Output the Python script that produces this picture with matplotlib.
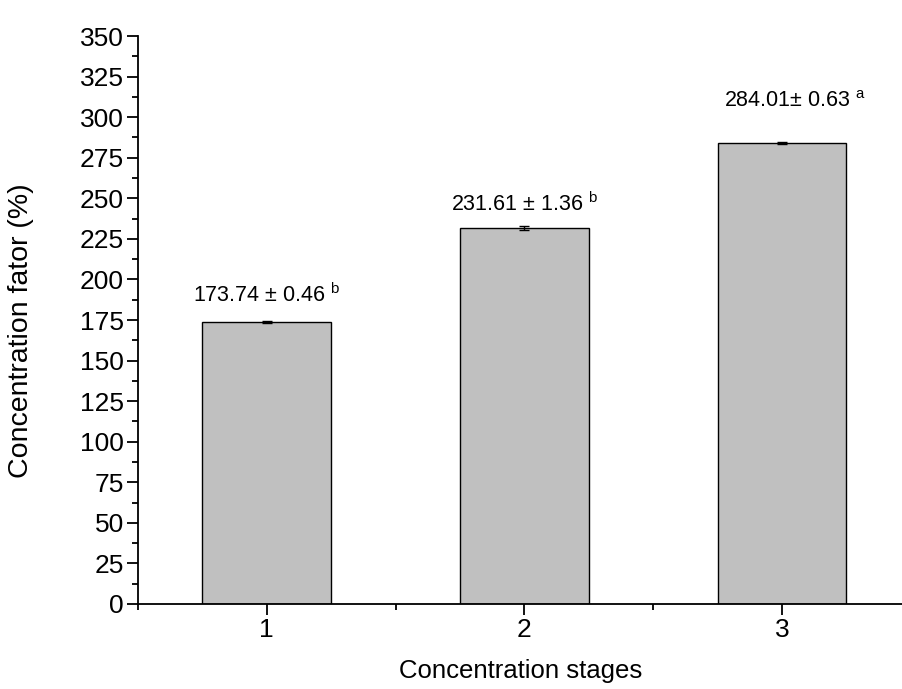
import numpy as np
import matplotlib
matplotlib.use("Agg")
import matplotlib.pyplot as plt
from matplotlib.ticker import MultipleLocator

plt.rcParams["font.family"] = ["Liberation Sans", "DejaVu Sans"]
plt.rcParams["mathtext.fontset"] = "custom"
plt.rcParams["mathtext.rm"] = "Liberation Sans"

# Données
stages = [1, 2, 3]
valeurs = [173.74, 231.61, 284.01]
ecarts = [0.46, 1.36, 0.63]
lettres = ["b", "b", "a"]
etiquettes = ["173.74 ± 0.46", "231.61 ± 1.36", "284.01± 0.63"]

fig = plt.figure(figsize=(9.03, 6.89), dpi=100)
ax = fig.add_axes([0.1528, 0.1234, 0.8472, 0.8243])

ax.bar(stages, valeurs, width=0.5, color="#c0c0c0", edgecolor="black", linewidth=1.0, zorder=2)
ax.errorbar(stages, valeurs, yerr=ecarts, fmt="none", ecolor="black",
            elinewidth=1.0, capsize=3.5, capthick=1.0, zorder=3)

# position des étiquettes (décalage en points)
decalages = [(0, 14), (0, 11), (9, 25)]
for x, v, e, lab, l, d in zip(stages, valeurs, ecarts, etiquettes, lettres, decalages):
    ax.annotate(lab + r" $^{\mathrm{" + l + "}}$", xy=(x, v + e), xytext=d,
                textcoords="offset points", ha="center", va="baseline", fontsize=15.5)

ax.set_xlim(0.5, 3.47)
ax.set_ylim(0, 350)
ax.set_xticks(stages)
ax.xaxis.set_minor_locator(MultipleLocator(0.5))
ax.yaxis.set_major_locator(MultipleLocator(25))
ax.yaxis.set_minor_locator(MultipleLocator(12.5))

for s in ["top", "right"]:
    ax.spines[s].set_visible(False)
for s in ["left", "bottom"]:
    ax.spines[s].set_linewidth(1.3)

ax.tick_params(which="major", direction="out", length=8, width=1.3, labelsize=19, pad=2)
ax.tick_params(which="minor", direction="out", length=4.5, width=1.3)

ax.set_xlabel("Concentration stages", fontsize=18.5, labelpad=12)
ax.set_ylabel("Concentration fator (%)", fontsize=20.5)
ax.yaxis.set_label_coords(-0.136, 0.482)

fig.savefig("out.png", dpi=100)
